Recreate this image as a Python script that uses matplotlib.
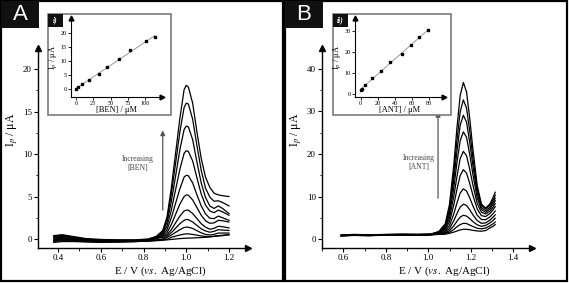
import numpy as np
import matplotlib
matplotlib.use("Agg")
import matplotlib.pyplot as plt
from matplotlib.patches import Rectangle
from matplotlib.ticker import MultipleLocator

plt.rcParams["font.family"] = ["Liberation Serif", "DejaVu Serif"]
plt.rcParams["mathtext.fontset"] = "stix"

W, H = 569, 283

# ---------- DATA: panel A (BEN) ----------
E_A = [0.38, 0.42, 0.47, 0.53, 0.60, 0.68, 0.76, 0.82, 0.86, 0.89, 0.91, 0.93,
       0.95, 0.97, 0.99, 1.00, 1.01, 1.03, 1.05, 1.07, 1.09, 1.11, 1.13, 1.15,
       1.17, 1.20]
I_A = [
    [0.35, 0.45, 0.2, 0.0, -0.1, -0.15, -0.15, -0.05, 0.3, 1.0, 2.6, 6.0,
     10.1, 14.2, 17.6, 18.1, 17.9, 16.0, 12.6, 9.5, 7.3, 6.1, 5.4, 5.2, 5.1, 5.0],
    [0.25, 0.35, 0.15, -0.05, -0.15, -0.2, -0.2, -0.1, 0.3, 0.9, 2.3, 5.3,
     8.9, 12.6, 15.5, 16.0, 15.9, 14.1, 11.0, 8.1, 6.0, 4.95, 4.45, 4.5, 4.3, 3.9],
    [0.4, 0.5, 0.3, 0.05, -0.05, -0.1, -0.1, 0.0, 0.25, 0.75, 1.95, 4.4,
     7.4, 10.5, 12.9, 13.3, 13.2, 11.7, 9.05, 6.6, 4.9, 3.9, 3.6, 3.9, 3.6, 3.0],
    [0.1, 0.2, 0.05, -0.1, -0.2, -0.2, -0.2, -0.1, 0.2, 0.58, 1.5, 3.4,
     5.8, 8.2, 10.1, 10.4, 10.3, 9.2, 7.2, 5.3, 4.0, 3.3, 3.1, 3.4, 3.2, 2.8],
    [0.0, 0.1, -0.05, -0.15, -0.2, -0.25, -0.25, -0.15, 0.14, 0.42, 1.1, 2.5,
     4.2, 5.9, 7.3, 7.5, 7.45, 6.6, 5.2, 3.9, 2.95, 2.45, 2.4, 2.7, 2.5, 2.2],
    [-0.1, 0.0, -0.1, -0.2, -0.25, -0.25, -0.25, -0.2, 0.1, 0.29, 0.75, 1.7,
     2.9, 4.1, 5.0, 5.2, 5.15, 4.6, 3.7, 2.8, 2.15, 1.85, 1.9, 2.2, 2.15, 2.0],
    [0.2, 0.3, 0.1, -0.05, -0.15, -0.15, -0.15, -0.1, 0.06, 0.19, 0.5, 1.1,
     1.9, 2.7, 3.3, 3.4, 3.4, 3.0, 2.4, 1.8, 1.4, 1.15, 1.25, 1.5, 1.45, 1.3],
    [-0.2, -0.1, -0.15, -0.25, -0.3, -0.3, -0.3, -0.2, -0.1, 0.0, 0.33, 0.75,
     1.27, 1.8, 2.2, 2.3, 2.28, 2.0, 1.6, 1.2, 0.95, 0.8, 0.9, 1.1, 1.05, 1.0],
    [-0.3, -0.2, -0.25, -0.3, -0.35, -0.35, -0.3, -0.25, -0.15, -0.05, 0.2, 0.46,
     0.78, 1.1, 1.35, 1.4, 1.39, 1.24, 0.98, 0.73, 0.55, 0.47, 0.55, 0.7, 0.7, 0.7],
    [-0.15, -0.05, -0.15, -0.2, -0.3, -0.3, -0.25, -0.2, -0.15, -0.1, -0.02, 0.2,
     0.34, 0.47, 0.58, 0.6, 0.6, 0.54, 0.45, 0.36, 0.3, 0.28, 0.33, 0.4, 0.44, 0.5],
    [-0.4, -0.3, -0.3, -0.35, -0.4, -0.35, -0.3, -0.25, -0.2, -0.15, -0.1, -0.05,
     0.0, 0.05, 0.08, 0.1, 0.1, 0.12, 0.15, 0.17, 0.2, 0.25, 0.3, 0.35, 0.4, 0.5],
]
conc_BEN = [0, 2.4, 8.7, 19.2, 33.2, 44.7, 61.6, 78.4, 100.6, 113.5]
ip_BEN = [0.0, 0.8, 1.9, 3.3, 5.5, 7.9, 10.7, 13.9, 17.1, 18.7]

# ---------- DATA: panel B (ANT) ----------
E_B = [0.59, 0.65, 0.72, 0.80, 0.88, 0.95, 1.01, 1.05, 1.08, 1.10, 1.12, 1.135,
       1.15, 1.165, 1.18, 1.195, 1.21, 1.23, 1.25, 1.27, 1.29, 1.305, 1.315]
I_B = [
    [0.85, 0.95, 0.9, 1.0, 1.05, 1.05, 1.1, 1.8, 3.6, 8.2, 17.4, 26.2,
     33.7, 36.8, 34.6, 28.4, 21.1, 12.7, 8.2, 7.3, 8.25, 9.8, 11.0],
    [0.9, 1.0, 0.95, 1.05, 1.1, 1.1, 1.15, 1.7, 3.3, 7.4, 15.5, 23.3,
     29.9, 32.7, 30.8, 25.4, 19.1, 11.7, 7.9, 7.1, 7.9, 9.2, 10.3],
    [0.8, 0.9, 0.85, 0.95, 1.0, 1.0, 1.05, 1.6, 3.1, 6.7, 13.85, 20.7,
     26.7, 29.1, 27.5, 22.7, 17.2, 10.8, 7.4, 6.7, 7.45, 8.65, 9.6],
    [0.95, 1.1, 1.0, 1.1, 1.15, 1.1, 1.15, 1.55, 2.8, 5.9, 12.0, 18.0,
     23.1, 25.2, 23.9, 19.9, 15.2, 9.7, 6.9, 6.3, 7.05, 8.1, 9.0],
    [0.75, 0.85, 0.8, 0.9, 0.95, 0.95, 1.0, 1.45, 2.5, 5.0, 10.0, 14.7,
     18.9, 20.6, 19.6, 16.4, 12.7, 8.4, 6.3, 5.9, 6.55, 7.5, 8.3],
    [0.9, 1.05, 0.95, 1.05, 1.1, 1.05, 1.1, 1.4, 2.2, 4.1, 8.0, 11.7,
     14.9, 16.3, 15.5, 13.1, 10.3, 7.1, 5.5, 5.3, 6.0, 6.9, 7.6],
    [0.8, 0.95, 0.85, 1.0, 1.05, 1.0, 1.05, 1.3, 1.86, 3.2, 5.9, 8.5,
     10.8, 11.8, 11.3, 9.7, 7.8, 5.6, 4.6, 4.55, 5.2, 6.0, 6.6],
    [0.85, 0.95, 0.9, 1.0, 1.0, 1.0, 1.05, 1.2, 1.6, 2.5, 4.3, 6.0,
     7.5, 8.2, 7.9, 6.9, 5.7, 4.35, 3.7, 3.8, 4.45, 5.15, 5.7],
    [0.75, 0.9, 0.8, 0.95, 1.0, 0.95, 1.0, 1.15, 1.4, 2.0, 3.1, 4.2,
     5.15, 5.6, 5.4, 4.8, 4.1, 3.35, 3.0, 3.2, 3.8, 4.4, 4.9],
    [0.85, 1.0, 0.9, 1.0, 1.05, 1.0, 1.05, 1.12, 1.3, 1.6, 2.25, 2.9,
     3.4, 3.7, 3.65, 3.3, 2.95, 2.55, 2.4, 2.6, 3.1, 3.6, 4.0],
    [0.8, 0.9, 0.85, 0.95, 1.0, 0.95, 1.0, 1.1, 1.15, 1.35, 1.63, 1.9,
     2.15, 2.3, 2.3, 2.2, 2.05, 1.9, 1.85, 2.0, 2.6, 3.0, 3.4],
]
conc_ANT = [0, 1.5, 5, 13, 24, 34, 48.4, 58.6, 68.8, 78.9]
ip_ANT = [1.7, 2.6, 4.5, 7.5, 10.7, 15.0, 19.0, 23.4, 27.0, 30.1]


def fig_rect(x0, y0, x1, y1):
    # pixel box (top-left origin) -> figure fraction [l, b, w, h]
    return [x0 / W, 1 - y1 / H, (x1 - x0) / W, (y1 - y0) / H]


def add_box(x0, y0, x1, y1, z, **kw):
    fig.add_artist(Rectangle((x0 / W, 1 - y1 / H), (x1 - x0) / W, (y1 - y0) / H,
                             transform=fig.transFigure, zorder=z, **kw))


def arrow_axes(ax, lw=1.0, ms=4):
    for s in ["top", "right"]:
        ax.spines[s].set_visible(False)
    for s in ["left", "bottom"]:
        ax.spines[s].set_linewidth(lw)
    ax.plot(1, 0, ">", color="k", ms=ms, transform=ax.transAxes, clip_on=False)
    ax.plot(0, 1, "^", color="k", ms=ms, transform=ax.transAxes, clip_on=False)


fig = plt.figure(figsize=(W / 100, H / 100), dpi=100)

panels = [
    dict(frame=(1, 1, 283, 281), tag="A", E=E_A, I=I_A,
         ax=(38, 48, 248, 248), xlim=(0.306, 1.289), ylim=(-1.06, 22.5),
         xt=[0.4, 0.6, 0.8, 1.0, 1.2], yt=[0, 5, 10, 15, 20], xm=0.1, ym=2.5,
         arrow=(0.89, 3.4, 12.8), text=(0.775, 8.9), name="BEN",
         inset_frame=(48, 14, 171, 115), inset=(71, 18, 162, 97),
         ixlim=(-7.2, 124), iylim=(-2.75, 25.5),
         ixt=[0, 25, 50, 75, 100], iyt=[0, 5, 10, 15, 20],
         conc=conc_BEN, ip=ip_BEN, itag="i)"),
    dict(frame=(285, 1, 567, 281), tag="B", E=E_B, I=I_B,
         ax=(322, 48, 532, 248), xlim=(0.5, 1.488), ylim=(-2.1, 44.9),
         xt=[0.6, 0.8, 1.0, 1.2, 1.4], yt=[0, 10, 20, 30, 40], xm=0.1, ym=5,
         arrow=(1.046, 9.6, 29.9), text=(0.955, 17.9), name="ANT",
         inset_frame=(333, 14, 451, 115), inset=(355, 18, 444, 97),
         ixlim=(-6.7, 97.5), iylim=(-1.4, 36),
         ixt=[0, 20, 40, 60, 80], iyt=[0, 10, 20, 30],
         conc=conc_ANT, ip=ip_ANT, itag="ii)"),
]

for p in panels:
    # panel frame and letter box
    x0, y0, x1, y1 = p["frame"]
    add_box(x0, y0, x1, y1, 5, fill=False, edgecolor="k", lw=1.6)
    add_box(x0, y0, x0 + 38, 28, 5, facecolor="#111111", edgecolor="none")
    fig.text((x0 + 19) / W, 1 - 15 / H, p["tag"], color="white", fontsize=16,
             family="Liberation Sans", ha="center", va="center", zorder=6)

    # main voltammograms
    ax = fig.add_axes(fig_rect(*p["ax"]))
    ax.set_zorder(1)
    ax.set_facecolor("none")
    for curve in p["I"]:
        ax.plot(p["E"], curve, color="k", lw=0.9)
    ax.set_xlim(*p["xlim"])
    ax.set_ylim(*p["ylim"])
    ax.set_xticks(p["xt"])
    ax.set_xticklabels([f"{v:.1f}" for v in p["xt"]])
    ax.set_yticks(p["yt"])
    ax.xaxis.set_minor_locator(MultipleLocator(p["xm"]))
    ax.yaxis.set_minor_locator(MultipleLocator(p["ym"]))
    ax.tick_params(which="major", direction="out", length=3, width=0.8,
                   labelsize=6.5, pad=1.5)
    ax.tick_params(which="minor", direction="out", length=1.8, width=0.6)
    arrow_axes(ax)
    ax.set_xlabel(r"E / V ($\it{vs.}$ Ag/AgCl)", fontsize=8)
    ax.xaxis.set_label_coords(0.58, -0.085)
    ax.set_ylabel(r"I$_p$ / μA", fontsize=8.5)
    ax.yaxis.set_label_coords(-0.088, 0.59)

    xa, ya0, ya1 = p["arrow"]
    ax.annotate("", xy=(xa, ya1), xytext=(xa, ya0),
                arrowprops=dict(arrowstyle="-|>", color="#555555", lw=0.9,
                                mutation_scale=7, shrinkA=0, shrinkB=0))
    ax.text(p["text"][0], p["text"][1], "Increasing\n[" + p["name"] + "]",
            fontsize=5.5, color="#444444", ha="center", va="center",
            linespacing=1.2)

    # calibration inset
    fx0, fy0, fx1, fy1 = p["inset_frame"]
    add_box(fx0, fy0, fx1, fy1, 2, facecolor="white", edgecolor="#7a7a7a", lw=1.2)
    add_box(fx0, fy0, fx0 + 15, 27, 4, facecolor="#111111", edgecolor="none")
    fig.text((fx0 + 7.5) / W, 1 - 20.5 / H, p["itag"], color="white",
             fontsize=5.5, style="italic", weight="bold",
             ha="center", va="center", zorder=6)

    ins = fig.add_axes(fig_rect(*p["inset"]))
    ins.set_zorder(3)
    ins.set_facecolor("none")
    slope, icpt = np.polyfit(p["conc"], p["ip"], 1)
    xs = np.array([p["conc"][0], p["conc"][-1]])
    ins.plot(xs, slope * xs + icpt, color="#888888", lw=0.6)
    ins.plot(p["conc"], p["ip"], "s", color="k", ms=1.6)
    ins.set_xlim(*p["ixlim"])
    ins.set_ylim(*p["iylim"])
    ins.set_xticks(p["ixt"])
    ins.set_yticks(p["iyt"])
    ins.tick_params(direction="out", length=2, width=0.6, labelsize=4.5, pad=1)
    arrow_axes(ins, lw=0.8, ms=3.5)
    ins.set_xlabel("[" + p["name"] + "] / μM", fontsize=6, labelpad=0)
    ins.set_ylabel(r"I$_p$ / μA", fontsize=6, labelpad=1)

fig.savefig("out.png", dpi=100)
